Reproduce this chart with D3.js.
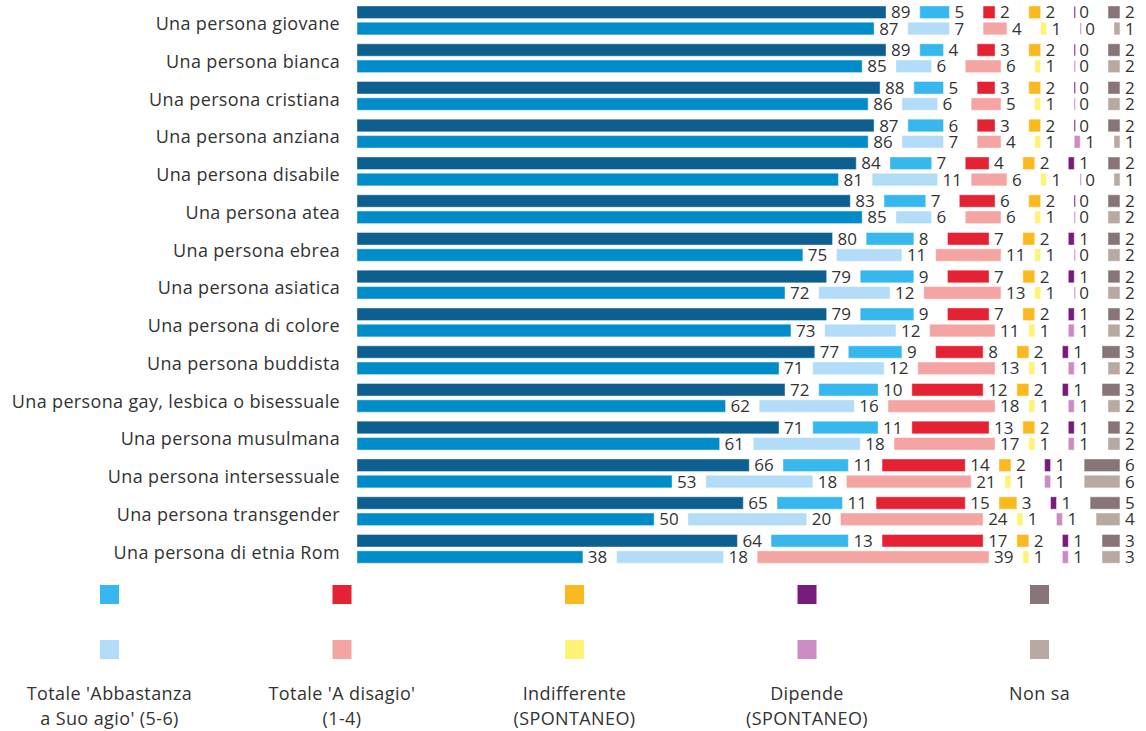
<!DOCTYPE html>
<html lang="it">
<head>
<meta charset="UTF-8">
<title>Agio</title>
<script src="https://d3js.org/d3.v7.min.js"></script>
<style>
  body { margin: 0; background: #fff; }
  text { font-family: "Open Sans", "Liberation Sans", sans-serif; fill: #333; }
</style>
</head>
<body>
<svg width="1146" height="731"></svg>
<script>
// categories
const categories = [
  "Una persona giovane", "Una persona bianca", "Una persona cristiana",
  "Una persona anziana", "Una persona disabile", "Una persona atea",
  "Una persona ebrea", "Una persona asiatica", "Una persona di colore",
  "Una persona buddista", "Una persona gay, lesbica o bisessuale",
  "Una persona musulmana", "Una persona intersessuale",
  "Una persona transgender", "Una persona di etnia Rom"
];

// top bar of each category (darker shades)
const topValues = [
  [89, 5, 2, 2, 0, 2], [89, 4, 3, 2, 0, 2], [88, 5, 3, 2, 0, 2],
  [87, 6, 3, 2, 0, 2], [84, 7, 4, 2, 1, 2], [83, 7, 6, 2, 0, 2],
  [80, 8, 7, 2, 1, 2], [79, 9, 7, 2, 1, 2], [79, 9, 7, 2, 1, 2],
  [77, 9, 8, 2, 1, 3], [72, 10, 12, 2, 1, 3], [71, 11, 13, 2, 1, 2],
  [66, 11, 14, 2, 1, 6], [65, 11, 15, 3, 1, 5], [64, 13, 17, 2, 1, 3]
];

// bottom bar of each category (lighter shades)
const bottomValues = [
  [87, 7, 4, 1, 0, 1], [85, 6, 6, 1, 0, 2], [86, 6, 5, 1, 0, 2],
  [86, 7, 4, 1, 1, 1], [81, 11, 6, 1, 0, 1], [85, 6, 6, 1, 0, 2],
  [75, 11, 11, 1, 0, 2], [72, 12, 13, 1, 0, 2], [73, 12, 11, 1, 1, 2],
  [71, 12, 13, 1, 1, 2], [62, 16, 18, 1, 1, 2], [61, 18, 17, 1, 1, 2],
  [53, 18, 21, 1, 1, 6], [50, 20, 24, 1, 1, 4], [38, 18, 39, 1, 1, 3]
];

const darkColors  = ["#0d5f8f", "#36b8ee", "#e52233", "#fbb920", "#771b7c", "#877577"];
const lightColors = ["#008cc9", "#b3dcf8", "#f4a5a3", "#fff274", "#cd8bc3", "#b8a9a1"];

// legend (first series has no entry)
const legendLabels = [
  ["Totale 'Abbastanza", "a Suo agio' (5-6)"],
  ["Totale 'A disagio'", "(1-4)"],
  ["Indifferente", "(SPONTANEO)"],
  ["Dipende", "(SPONTANEO)"],
  ["Non sa"]
];

const svg = d3.select("svg");

const x0 = 357;
const gap = 33.7;
const x = d3.scaleLinear().domain([0, 100]).range([0, 594.4]);
const y = d3.scaleBand().domain(categories).range([6, 6 + 37.75 * 15]).paddingInner(0);
const barH = 12.5;

function drawRow(g, values, colors, yTop) {
  let cum = 0;
  values.forEach((v, i) => {
    const xs = x0 + x(cum) + i * gap;
    const w = x(v);
    if (v === 0) {
      g.append("line")
        .attr("x1", xs + 0.5).attr("x2", xs + 0.5)
        .attr("y1", yTop + 0.5).attr("y2", yTop + barH - 0.5)
        .attr("stroke", colors[i])
        .attr("stroke-width", 1);
    } else {
      g.append("rect")
        .attr("x", xs + 0.5)
        .attr("y", yTop + 0.5)
        .attr("width", Math.max(w - 1, 0))
        .attr("height", barH - 1)
        .attr("fill", colors[i])
        .attr("stroke", colors[i])
        .attr("stroke-opacity", 0.6)
        .attr("stroke-width", 1);
    }
    g.append("text")
      .attr("x", xs + w + 5)
      .attr("y", yTop + barH / 2)
      .attr("dy", "0.36em")
      .style("font-size", "17px")
      .text(v);
    cum += v;
  });
}

const rows = svg.append("g");
categories.forEach((c, k) => {
  const yt = y(c);
  const g = rows.append("g");
  drawRow(g, topValues[k], darkColors, yt);
  drawRow(g, bottomValues[k], lightColors, yt + 16.3);
  g.append("text")
    .attr("x", 340)
    .attr("y", yt + 24)
    .attr("text-anchor", "end")
    .style("font-size", "18px")
    .style("letter-spacing", "0.35px")
    .text(c);
});

// legend
const lx = d3.scalePoint().domain(d3.range(5)).range([109.5, 1039.5]);
const legend = svg.append("g");
legendLabels.forEach((lab, i) => {
  const cx = lx(i);
  legend.append("rect").attr("x", cx - 9.5).attr("y", 585).attr("width", 19).attr("height", 19)
    .attr("fill", darkColors[i + 1]);
  legend.append("rect").attr("x", cx - 9.5).attr("y", 640).attr("width", 19).attr("height", 19)
    .attr("fill", lightColors[i + 1]);
  lab.forEach((t, j) => {
    legend.append("text")
      .attr("x", cx)
      .attr("y", 700 + j * 24.5)
      .attr("text-anchor", "middle")
      .style("font-size", "18px")
      .style("letter-spacing", "0.4px")
      .text(t);
  });
});
</script>
</body>
</html>
